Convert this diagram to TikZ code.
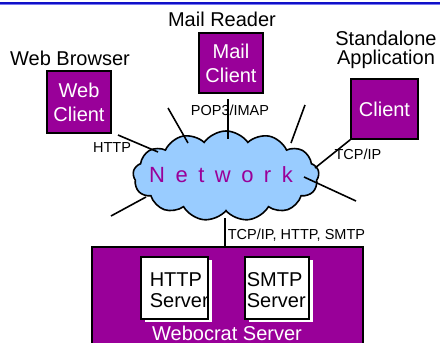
\documentclass[tikz,border=0pt]{standalone}
\usepackage{fontspec}
\setmainfont{Liberation Sans}
\usetikzlibrary{shapes.symbols,shadows,positioning}
\definecolor{plum}{HTML}{990099}
\definecolor{sky}{HTML}{99CCFF}
\definecolor{rule}{HTML}{1010C8}
\definecolor{rulelight}{HTML}{7A7AF0}

\begin{document}
\begin{tikzpicture}[x=1pt,y=-1pt,line width=1.6pt,
  client/.style={draw=black,fill=plum,text=white,align=center,inner sep=0pt,
    font=\fontsize{20}{24}\selectfont},
  caption/.style={align=center,inner sep=0pt,font=\fontsize{20}{19}\selectfont},
  proto/.style={inner sep=0pt,font=\fontsize{14.5}{17}\selectfont},
  srvbox/.style={draw=black,fill=white,minimum width=67pt,minimum height=62pt,
    drop shadow={fill=white,opacity=1,shadow xshift=4pt,shadow yshift=-3pt}},
  srvtext/.style={align=left,inner sep=0pt,font=\fontsize{20}{21}\selectfont}]
\clip (0,0) rectangle (440,343);
% rule along the top
\draw[rule,line width=1.7pt] (0,2.8) -- (440,2.8);
\draw[rulelight,line width=1.3pt] (0,4.4) -- (440,4.4);

% clients
\node[caption] (browser) at (70,58) {Web Browser};
\node[client,minimum width=64pt,minimum height=62pt] (web) at (79,102) {Web\\Client};
\node[caption] (reader) at (222,19.5) {Mail Reader};
\node[client,minimum width=64pt,minimum height=60pt] (mail) at (231,63) {Mail\\Client};
\node[caption] (standalone) at (386,50) {Standalone\\Application};
\node[client,minimum width=67pt,minimum height=60pt] (app) at (384.5,109) {Client};

% the network cloud
\node[cloud,cloud puffs=13,cloud puff arc=110,cloud ignores aspect,inner sep=0pt,
  draw=black,fill=sky,minimum width=186pt,minimum height=90pt] (net) at (226,176) {};
\node[text=plum,inner sep=0pt,font=\fontsize{22}{22}\selectfont] (nettext) at (221,175)
  {\spaceskip=10.5pt N e t w o r k};

% spokes into the cloud
\coordinate (s1) at (118,135); \coordinate (e1) at (158,152);
\coordinate (s2) at (168,108); \coordinate (e2) at (188,143);
\coordinate (s3) at (228,99);  \coordinate (e3) at (228,139);
\coordinate (s4) at (305,105); \coordinate (e4) at (291,143);
\coordinate (s5) at (app.south west); \coordinate (e5) at (315,168);
\coordinate (s6) at (356,201); \coordinate (e6) at (304,177);
\coordinate (s7) at (111,216); \coordinate (e7) at (146,197);
\foreach \i in {1,...,7}
  \draw (s\i) -- (e\i);

\node[proto] (http) at (112,148) {HTTP};
\node[proto] (pop) at (230,110) {POP3/IMAP};
\node[proto] (tcp) at (358,154) {TCP/IP};

% server side
\node[draw=black,fill=plum,minimum width=271pt,minimum height=103pt] (server) at (227.5,298.5) {};
\coordinate (e8) at (225,218);
\draw (e8) -- (e8 |- server.north);
\node[proto,anchor=west] (all) at (227,235) {TCP/IP, HTTP, SMTP};

\node[srvbox] (httpd) at (174.5,288) {};
\node[srvtext,anchor=west] at (149,290) {HTTP\\Server};
\node[srvbox,minimum width=64pt] (smtpd) at (277,288) {};
\node[srvtext,anchor=west] at (246,290) {SMTP\\Server};
\node[text=white,inner sep=0pt,font=\fontsize{20}{24}\selectfont] (webocrat) at (227,333) {Webocrat Server};
\end{tikzpicture}
\end{document}
